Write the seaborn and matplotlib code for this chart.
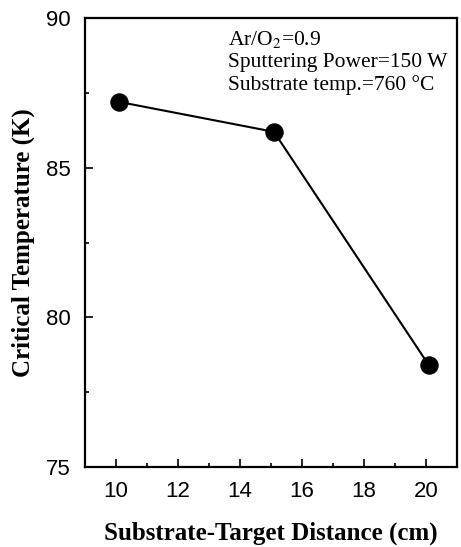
import matplotlib
matplotlib.use('Agg')

import pandas as pd
import matplotlib.pyplot as plt
import seaborn as sns
from matplotlib.ticker import MultipleLocator

# Data
distance = [10.1, 15.1, 20.1]
tc = [87.2, 86.2, 78.4]
x_ticks = [10, 12, 14, 16, 18, 20]
y_ticks = [75, 80, 85, 90]

df = pd.DataFrame({'distance': distance, 'tc': tc})

sns.set_style('ticks')

fig = plt.figure(figsize=(4.61, 5.47), dpi=100)
ax = fig.add_axes([0.184, 0.146, 0.807, 0.821])

sns.lineplot(data=df, x='distance', y='tc', ax=ax, color='black', linewidth=1.5,
             marker='o', markersize=12.5, markeredgecolor='black', markerfacecolor='black')

ax.set_xlim(9, 21)
ax.set_ylim(75, 90)
ax.set_xticks(x_ticks)
ax.set_yticks(y_ticks)
ax.xaxis.set_minor_locator(MultipleLocator(1))
ax.yaxis.set_minor_locator(MultipleLocator(2.5))
ax.tick_params(which='both', direction='in', top=False, right=False, width=1.2,
               color='black', labelcolor='black')
ax.tick_params(which='major', length=6, labelsize=16, pad=10)
ax.tick_params(which='minor', length=3)
for lab in ax.get_xticklabels() + ax.get_yticklabels():
    lab.set_fontfamily('Liberation Sans')

for s in ax.spines.values():
    s.set_visible(True)
    s.set_linewidth(1.6)
    s.set_color('black')

ax.set_xlabel('Substrate-Target Distance (cm)', fontsize=18, fontweight='bold',
              family='Liberation Serif', labelpad=14, color='black')
ax.set_ylabel('Critical Temperature (K)', fontsize=18, fontweight='bold',
              family='Liberation Serif', labelpad=8, color='black')

ax.text(0.385, 0.975, 'Ar/O$_2$=0.9\nSputtering Power=150 W\nSubstrate temp.=760 \u00b0C',
        transform=ax.transAxes, ha='left', va='top', fontsize=15.5,
        family='Liberation Serif', linespacing=1.2, color='black',
        math_fontfamily='stix')

fig.savefig('out.png', dpi=100)
